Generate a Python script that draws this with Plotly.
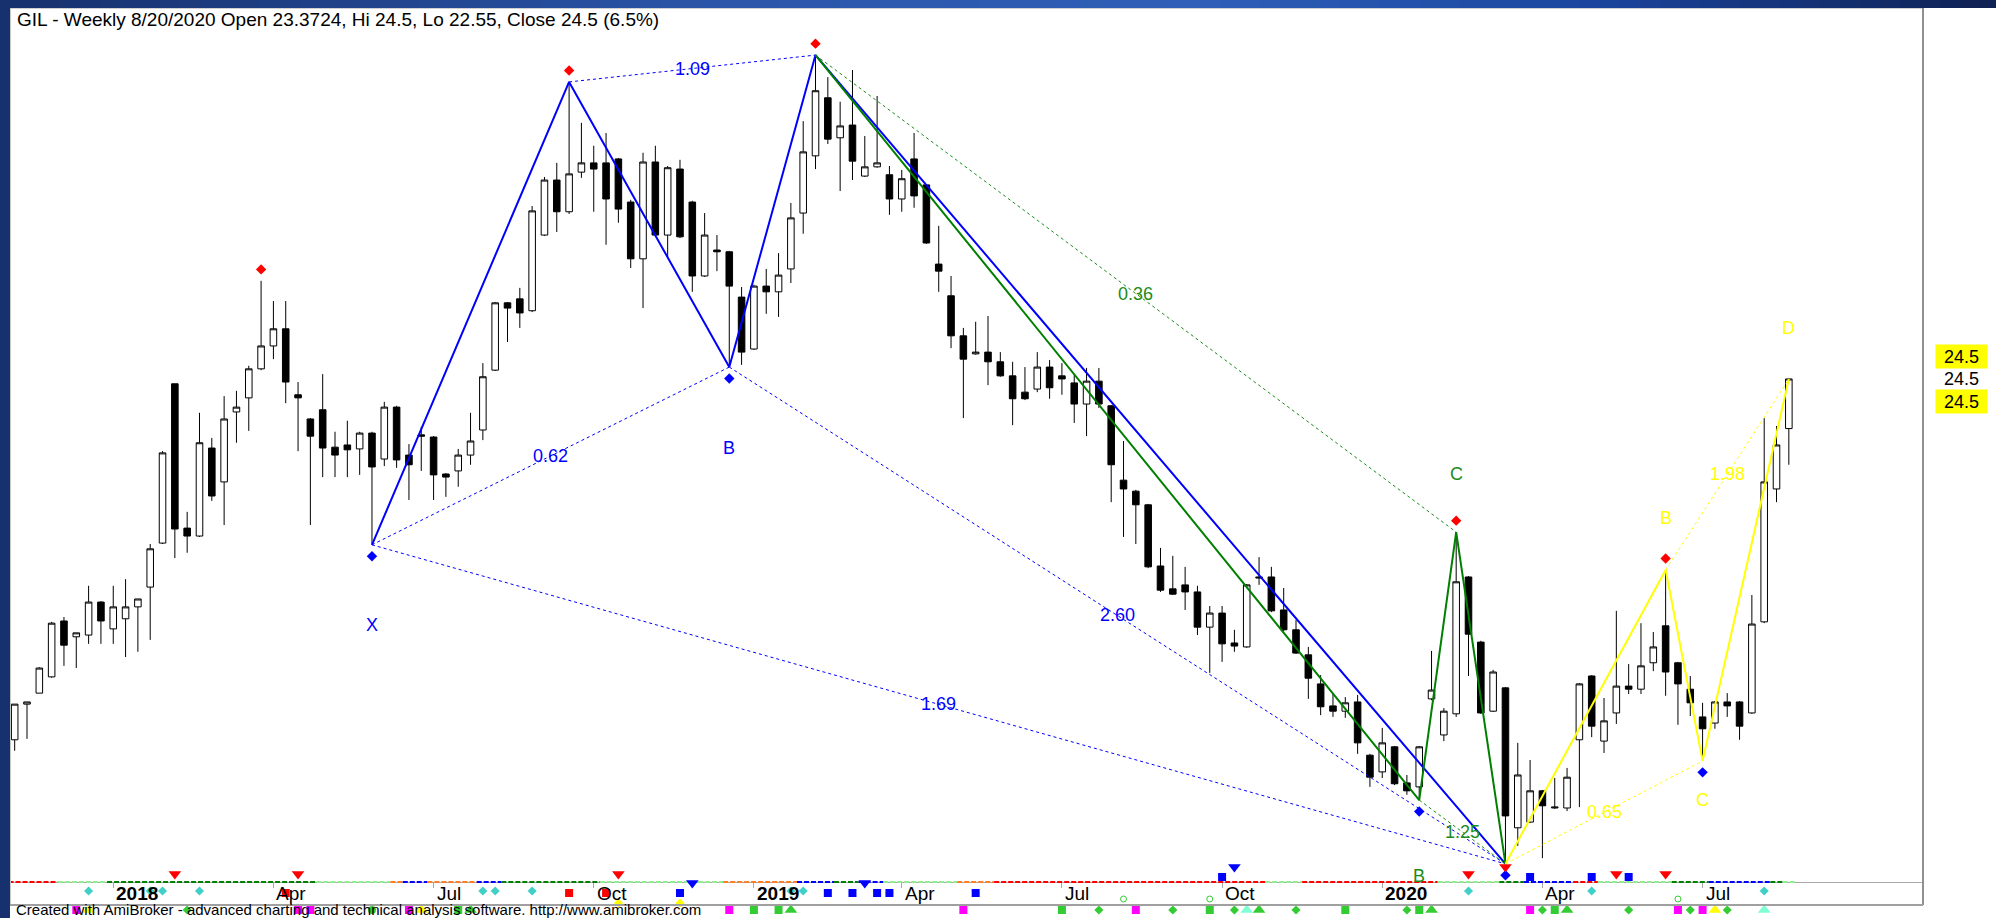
import plotly.graph_objects as go

# ---------------------------------------------------------------- data
symbol = "GIL"
period = "Weekly"
last_date = "8/20/2020"

bars = list(range(1, 146))

opens = [16.30, 17.11, 17.36, 17.73, 19.00, 18.64, 18.68, 19.43, 18.82, 19.05,
         19.32, 19.77, 20.77, 24.39, 21.11, 20.93, 22.93, 22.16, 23.75, 24.07,
         24.73, 25.25, 25.64, 24.14, 23.59, 23.80, 22.95, 23.00, 22.91, 23.27,
         22.68, 23.86, 22.77, 23.23, 23.18, 22.34, 22.41, 22.77, 23.34, 24.70,
         26.23, 26.32, 26.05, 27.77, 29.02, 28.30, 29.20, 29.41, 29.41, 29.50,
         28.52, 27.23, 29.43, 27.77, 29.27, 28.52, 26.84, 27.43, 27.39, 26.36,
         25.18, 26.61, 26.48, 27.00, 28.27, 29.57, 30.89, 29.98, 30.27, 29.11,
         29.32, 29.14, 28.59, 29.50, 28.91, 27.11, 26.39, 25.48, 25.07, 25.11,
         24.89, 24.57, 24.20, 24.27, 24.77, 24.57, 24.41, 23.93, 24.45, 23.89,
         22.20, 21.95, 21.64, 20.25, 19.73, 19.82, 19.66, 18.86, 19.18, 18.50,
         18.41, 20.00, 20.00, 19.25, 18.80, 18.23, 17.57, 17.07, 16.95, 17.16,
         15.95, 15.57, 16.14, 15.32, 15.23, 17.23, 16.41, 16.89, 20.00, 18.52,
         16.95, 17.48, 14.30, 14.43, 15.14, 14.75, 14.75, 16.30, 17.75, 16.27,
         16.91, 17.52, 17.45, 18.05, 18.89, 18.05, 17.45, 16.82, 16.68, 17.16,
         17.16, 16.91, 18.98, 22.00, 23.3724]

highs = [17.11, 17.16, 17.95, 18.98, 19.09, 18.73, 19.80, 19.45, 19.80, 19.95,
         19.50, 20.75, 22.86, 24.39, 21.48, 23.73, 23.16, 24.11, 24.23, 24.80,
         26.73, 26.27, 26.27, 24.43, 23.61, 24.61, 23.30, 23.55, 23.30, 23.30,
         23.98, 23.89, 23.02, 23.41, 23.20, 22.36, 22.91, 23.73, 24.86, 26.25,
         26.25, 26.57, 28.43, 29.09, 29.41, 31.25, 30.32, 29.80, 30.09, 29.52,
         28.57, 29.64, 29.80, 29.34, 29.48, 28.55, 28.27, 27.77, 27.41, 26.59,
         26.64, 27.00, 27.36, 28.50, 30.36, 31.86, 31.36, 30.80, 31.52, 30.02,
         30.93, 29.34, 29.25, 30.09, 28.93, 27.98, 26.84, 25.66, 25.80, 25.93,
         25.11, 24.89, 24.77, 25.11, 24.93, 24.86, 24.59, 24.75, 24.75, 23.91,
         23.09, 21.98, 21.66, 20.66, 20.48, 20.23, 19.80, 19.34, 19.34, 18.80,
         19.84, 20.45, 20.23, 19.75, 19.02, 18.41, 17.77, 17.36, 17.27, 17.32,
         15.98, 16.57, 16.16, 15.50, 16.16, 18.32, 17.02, 21.02, 20.02, 18.55,
         17.89, 17.50, 16.23, 15.84, 15.16, 15.43, 15.66, 17.59, 17.77, 17.25,
         19.23, 18.02, 18.95, 18.75, 20.16, 18.07, 17.75, 17.14, 17.18, 17.36,
         17.18, 19.59, 23.61, 23.43, 24.5]

lows = [16.05, 16.32, 17.36, 17.71, 17.98, 17.93, 18.48, 18.48, 18.48, 18.18,
        18.30, 18.57, 20.75, 20.43, 20.55, 20.91, 21.73, 21.18, 23.05, 23.32,
        24.70, 24.95, 23.95, 22.86, 21.18, 22.27, 22.27, 22.27, 22.32, 20.73,
        22.52, 22.48, 21.75, 22.41, 21.75, 21.82, 22.05, 22.55, 23.11, 24.68,
        25.34, 25.66, 26.02, 27.75, 27.84, 28.25, 29.07, 28.30, 27.55, 28.05,
        27.02, 26.11, 27.75, 27.27, 27.70, 26.48, 26.82, 26.95, 24.77, 24.82,
        25.16, 25.98, 25.91, 26.68, 27.80, 29.27, 29.84, 28.77, 29.02, 29.09,
        29.30, 28.23, 28.30, 28.39, 27.57, 26.48, 25.20, 23.61, 25.05, 24.36,
        24.55, 23.45, 24.02, 24.20, 24.05, 24.14, 23.50, 23.20, 23.84, 21.70,
        20.91, 20.75, 20.20, 19.66, 19.59, 19.25, 18.68, 17.82, 18.07, 18.30,
        18.39, 19.82, 19.20, 18.77, 18.25, 17.23, 16.86, 16.82, 16.80, 15.98,
        15.23, 15.43, 15.27, 15.05, 14.93, 17.20, 16.27, 16.82, 17.75, 16.89,
        16.93, 13.48, 13.89, 14.41, 13.61, 14.73, 14.68, 14.77, 16.36, 16.00,
        16.66, 17.34, 17.34, 17.86, 17.30, 16.64, 16.84, 15.82, 16.55, 16.82,
        16.30, 16.89, 18.95, 21.70, 22.55]

closes = [17.11, 17.16, 17.93, 18.95, 18.45, 18.73, 19.43, 19.00, 19.32, 19.32,
          19.50, 20.64, 22.82, 21.09, 20.93, 23.05, 21.84, 23.59, 23.86, 24.73,
          25.25, 25.64, 24.43, 24.07, 23.20, 22.93, 22.77, 22.89, 23.27, 22.50,
          23.86, 22.66, 22.55, 23.20, 22.32, 22.27, 22.77, 23.09, 24.55, 26.23,
          26.11, 26.00, 28.32, 29.02, 28.30, 29.16, 29.41, 29.27, 28.59, 28.36,
          27.23, 29.43, 27.77, 29.30, 27.73, 26.84, 27.77, 27.39, 26.61, 25.11,
          26.61, 26.48, 26.86, 28.16, 29.66, 31.05, 29.95, 30.25, 29.45, 29.32,
          29.41, 28.59, 29.05, 28.66, 27.59, 26.95, 25.48, 24.95, 25.11, 24.89,
          24.57, 24.05, 24.05, 24.77, 24.30, 24.50, 23.93, 24.45, 23.93, 22.55,
          22.00, 21.64, 20.23, 19.70, 19.61, 19.66, 18.86, 19.18, 18.48, 18.43,
          19.82, 19.98, 19.23, 18.80, 18.27, 17.70, 17.05, 16.95, 17.14, 16.23,
          15.45, 16.23, 15.30, 15.14, 16.14, 17.43, 16.95, 19.89, 18.70, 16.91,
          17.84, 14.57, 15.50, 15.14, 14.80, 14.77, 15.45, 17.57, 16.61, 16.73,
          17.52, 17.45, 17.98, 18.41, 17.84, 17.57, 17.14, 16.55, 17.16, 17.07,
          16.61, 18.93, 22.16, 23.00, 24.50]

tick_bars = [9, 22, 35, 48, 61, 73, 86, 99, 112, 125, 138]
tick_labels = ["2018", "Apr", "Jul", "Oct", "2019", "Apr", "Jul", "Oct", "2020", "Apr", "Jul"]
year_labels = ["2018", "2019", "2020"]

# harmonic patterns: pivot bar + which extreme
blue_pts = [(30, "L"), (46, "H"), (59, "L"), (66, "H"), (122, "L")]
blue_links = [(0, 2), (1, 3), (2, 4), (0, 4)]
blue_ratios = ["0.62", "1.09", "2.60", "1.69"]
blue_letters = [(0, "X"), (2, "B")]

green_pts = [(66, "H"), (115, "L"), (118, "H"), (122, "L")]
green_links = [(0, 2), (1, 3)]
green_ratios = ["0.36", "1.25"]
green_letters = [(1, "B"), (2, "C")]

yellow_pts = [(122, "L"), (135, "H"), (138, "L"), (145, "H")]
yellow_links = [(0, 2), (1, 3)]
yellow_ratios = ["0.65", "1.98"]
yellow_letters = [(1, "B"), (2, "C"), (3, "D")]

swing_high_bars = [21, 46, 66, 118, 135]
swing_low_bars = [30, 59, 115, 122, 138]

# indicator ribbon runs (first bar, last bar, state)
ribbon_runs = [(1, 4, "red"), (5, 8, "lgreen"), (9, 25, "dgreen"), (26, 31, "lgreen"),
               (32, 32, "orange"), (33, 34, "blue"), (35, 38, "orange"), (39, 40, "blue"),
               (41, 48, "dgreen"), (49, 58, "lgreen"), (59, 64, "orange"), (65, 67, "blue"),
               (68, 69, "dgreen"), (70, 71, "blue"), (72, 77, "lgreen"), (78, 80, "orange"),
               (81, 102, "red"), (103, 105, "lgreen"), (106, 116, "red"), (117, 121, "lgreen"),
               (122, 123, "dgreen"), (124, 127, "blue"), (128, 129, "red"), (130, 135, "lgreen"),
               (136, 138, "dgreen"), (139, 143, "blue"), (144, 144, "dgreen"), (145, 145, "lgreen")]

# signal markers (bar numbers)
sig_red_tri = [14, 24, 50, 119, 131, 135]
sig_red_tri_stacked = [122]
sig_blue_tri = [56, 70]
sig_blue_tri_stacked = [100]
sig_blue_sq_up = [99, 124, 129, 132]
sig_blue_sq_dn = [55, 67, 69, 71, 72, 79]
sig_red_sq = [23, 46, 49]
sig_cyan_dia = [7, 12, 13, 16, 39, 40, 43, 64, 65, 119, 129, 143]
sig_yellow_dia = [50, 55]
sig_green_ring = [91, 98, 136]
sig_magenta_sq = [6, 24, 25, 33, 59, 78, 92, 124, 136, 138]
sig_yellow_tri = [7, 34, 139]
sig_green_dia = [15, 89, 95, 100, 105, 114, 125, 132, 137, 140]
sig_green_dot = [30]
sig_green_sq = [37, 61, 63, 86, 98, 109, 115, 126]
sig_green_tri = [38, 64, 102, 116, 127]
sig_aqua_tri = [101, 143]

# ---------------------------------------------------------------- geometry / style
FIG_W, FIG_H = 1996, 918
PL, PR, PT, PB = 10, 1923, 8, 918
AXIS_Y = 882
STRIP_TOP = 860
FRAME_BOTTOM = 905
PW, PH = PR - PL, PB - PT


def pxx(x):
    return (x - PL) / PW


def pxy(y):
    return (PB - y) / PH


FONT = "Liberation Sans, Arial, sans-serif"
BLUE, GREEN, YELLOW = "#0000ff", "#008000", "#ffff00"
DOT_GAP = 0.26

ROW = dict(tri_hi=7, tri=14, sq_up=17, line=22, tri_ax=23, cyan=31, sq_dn=33,
           ring=39, ydia=43, bottom=50)
RIB_COL = {"red": "#ff0000", "lgreen": "#90ee90", "dgreen": "#008000",
           "orange": "#ff7f27", "blue": "#0000ff"}


def pval(bar, kind):
    return highs[bar - 1] if kind == "H" else lows[bar - 1]


fig = go.Figure()

fig.add_trace(go.Candlestick(
    x=bars, open=opens, high=highs, low=lows, close=closes,
    increasing=dict(line=dict(color="#000000", width=1), fillcolor="#ffffff"),
    decreasing=dict(line=dict(color="#000000", width=1), fillcolor="#000000"),
    whiskerwidth=0, showlegend=False, hoverinfo="skip"))

annotations = []


def add_pattern(pts, links, ratios, letters, color, line_color, letter_shift):
    xs = [b for b, k in pts]
    ys = [pval(b, k) for b, k in pts]
    for (a, b), txt in zip(links, ratios):
        fig.add_trace(go.Scatter(x=[xs[a], xs[b]], y=[ys[a], ys[b]], mode="lines",
                                 line=dict(color=color, width=1, dash="3px,3px"),
                                 showlegend=False, hoverinfo="skip"))
        annotations.append(dict(x=(xs[a] + xs[b]) / 2, y=(ys[a] + ys[b]) / 2, xref="x", yref="y",
                                text=txt, showarrow=False,
                                font=dict(family=FONT, size=18, color=color)))
    fig.add_trace(go.Scatter(x=xs, y=ys, mode="lines", line=dict(color=line_color, width=2),
                             showlegend=False, hoverinfo="skip"))
    for (i, letter), sh in zip(letters, letter_shift):
        annotations.append(dict(x=xs[i], y=ys[i], xref="x", yref="y", text=letter,
                                showarrow=False, yshift=sh,
                                font=dict(family=FONT, size=18, color=color)))


add_pattern(blue_pts, blue_links, blue_ratios, blue_letters, BLUE, BLUE, [-80, -81])
add_pattern(green_pts, green_links, green_ratios, green_letters, "#1a8c1a", GREEN, [-76, 58])
add_pattern(yellow_pts, yellow_links, yellow_ratios, yellow_letters, YELLOW, YELLOW, [52, -39, 51])

fig.add_trace(go.Scatter(x=swing_high_bars, y=[highs[b - 1] + DOT_GAP for b in swing_high_bars],
                         mode="markers", marker=dict(symbol="diamond", size=8, color="#ff0000"),
                         showlegend=False, hoverinfo="skip"))
fig.add_trace(go.Scatter(x=swing_low_bars, y=[lows[b - 1] - DOT_GAP for b in swing_low_bars],
                         mode="markers", marker=dict(symbol="diamond", size=8, color=BLUE),
                         showlegend=False, hoverinfo="skip"))

# ---- indicator strip (y2)
for s, e, st in ribbon_runs:
    fig.add_trace(go.Scatter(x=[s - 0.5, e + 0.5], y=[ROW["line"]] * 2, yaxis="y2", mode="lines",
                             line=dict(color=RIB_COL[st], width=2, dash="5px,2px"),
                             showlegend=False, hoverinfo="skip"))


def sig(bars_, row, symbol_, size, color, line=None):
    mk = dict(symbol=symbol_, size=size, color=color)
    if line:
        mk["line"] = line
    fig.add_trace(go.Scatter(x=bars_, y=[ROW[row]] * len(bars_), yaxis="y2", mode="markers",
                             marker=mk, showlegend=False, hoverinfo="skip"))


sig(sig_red_tri, "tri", "triangle-down", 11, "#ff0000")
sig(sig_red_tri_stacked, "tri_hi", "triangle-down", 11, "#ff0000")
sig(sig_blue_tri, "tri_ax", "triangle-down", 11, BLUE)
sig(sig_blue_tri_stacked, "tri_hi", "triangle-down", 11, BLUE)
sig(sig_blue_sq_up, "sq_up", "square", 8, BLUE)
sig(sig_blue_sq_dn, "sq_dn", "square", 8, BLUE)
sig(sig_red_sq, "sq_dn", "square", 8, "#ff0000")
sig(sig_cyan_dia, "cyan", "diamond", 7, "#40d0c8")
sig(sig_yellow_dia, "ydia", "diamond", 7, YELLOW)
sig(sig_green_ring, "ring", "circle-open", 6, "#33cc33", line=dict(width=1, color="#33cc33"))
sig(sig_magenta_sq, "bottom", "square", 8, "#ff00ff")
sig(sig_yellow_tri, "bottom", "triangle-up", 11, YELLOW)
sig(sig_green_dia, "bottom", "diamond", 7, "#33cc33")
sig(sig_green_dot, "bottom", "circle", 8, "#33cc33")
sig(sig_green_sq, "bottom", "square", 8, "#33cc33")
sig(sig_green_tri, "bottom", "triangle-up", 11, "#33cc33")
sig(sig_aqua_tri, "bottom", "triangle-up", 11, "#7fffd4")

# ---- title & footer
pct = (closes[-1] / closes[-2] - 1) * 100
title = (f"{symbol} - {period} {last_date} Open {opens[-1]:g}, Hi {highs[-1]:g}, "
         f"Lo {lows[-1]:g}, Close {closes[-1]:g} ({pct:.1f}%)")
annotations.append(dict(x=pxx(15), y=pxy(20), xref="paper", yref="paper", text=title,
                        showarrow=False, xanchor="left", yanchor="middle",
                        font=dict(family=FONT, size=19, color="#000000")))
annotations.append(dict(x=pxx(14), y=pxy(909), xref="paper", yref="paper",
                        text="Created with AmiBroker - advanced charting and technical analysis software. http://www.amibroker.com",
                        showarrow=False, xanchor="left", yanchor="middle",
                        font=dict(family=FONT, size=15, color="#000000")))

# ---- date labels
for b, lab in zip(tick_bars, tick_labels):
    txt = f"<b>{lab}</b>" if lab in year_labels else lab
    annotations.append(dict(x=b, y=pxy(893), xref="x", yref="paper", text=txt, showarrow=False,
                            xanchor="left", yanchor="middle", xshift=1,
                            font=dict(family=FONT, size=19, color="#000000")))

# ---- right value labels
for sh, bg in [(22.5, YELLOW), (0, "rgba(0,0,0,0)"), (-22.5, YELLOW)]:
    annotations.append(dict(x=pxx(1935), y=closes[-1], xref="paper", yref="y",
                            text=f"{closes[-1]:g}", showarrow=False, xanchor="left",
                            yanchor="middle", yshift=sh, width=47, height=19, borderpad=2,
                            align="center", bgcolor=bg,
                            font=dict(family=FONT, size=18, color="#000000")))

# ---- frame / decoration shapes
shapes = []
stops = [(0, (0x16, 0x30, 0x6c)), (700, (0x2b, 0x55, 0xa8)), (1200, (0x2f, 0x5f, 0xb8)),
         (1580, (0x1b, 0x46, 0xa0)), (1996, (0x0f, 0x21, 0x52))]


def grad(x):
    for (x0, c0), (x1, c1) in zip(stops[:-1], stops[1:]):
        if x0 <= x <= x1:
            t = (x - x0) / (x1 - x0)
            return "rgb(%d,%d,%d)" % tuple(round(a + (b - a) * t) for a, b in zip(c0, c1))
    return "rgb(15,33,82)"


step = 20
for x0 in range(0, FIG_W, step):
    shapes.append(dict(type="rect", xref="paper", yref="paper", x0=pxx(x0), x1=pxx(x0 + step + 1),
                       y0=pxy(PT), y1=pxy(0), fillcolor=grad(x0 + step / 2), line=dict(width=0),
                       layer="above"))
shapes.append(dict(type="rect", xref="paper", yref="paper", x0=pxx(0), x1=pxx(PL), y0=pxy(FIG_H),
                   y1=pxy(0), fillcolor="#17306e", line=dict(width=0), layer="above"))
shapes.append(dict(type="line", xref="paper", yref="paper", x0=pxx(PL), x1=pxx(PR),
                   y0=pxy(PT + 0.5), y1=pxy(PT + 0.5), line=dict(color="#d0d0d0", width=1)))
shapes.append(dict(type="line", xref="paper", yref="paper", x0=pxx(PL + 0.5), x1=pxx(PL + 0.5),
                   y0=pxy(PT), y1=pxy(FRAME_BOTTOM), line=dict(color="#c8c8c8", width=1)))
shapes.append(dict(type="line", xref="paper", yref="paper", x0=pxx(PR), x1=pxx(PR),
                   y0=pxy(PT), y1=pxy(FRAME_BOTTOM), line=dict(color="#909090", width=2)))
shapes.append(dict(type="line", xref="paper", yref="paper", x0=pxx(PL), x1=pxx(PR),
                   y0=pxy(FRAME_BOTTOM), y1=pxy(FRAME_BOTTOM), line=dict(color="#a0a0a0", width=2)))

fig.update_layout(
    width=FIG_W, height=FIG_H,
    margin=dict(l=PL, r=FIG_W - PR, t=PT, b=FIG_H - PB, pad=0),
    paper_bgcolor="#ffffff", plot_bgcolor="rgba(0,0,0,0)",
    showlegend=False, boxgap=0.24,
    xaxis=dict(range=[0.62, 155.89], showgrid=False, zeroline=False, showline=True,
               linecolor="#a8a8a8", linewidth=1, ticks="outside", ticklen=5,
               tickcolor="#a8a8a8", tickvals=tick_bars, showticklabels=False,
               rangeslider=dict(visible=False), anchor="y", fixedrange=True),
    yaxis=dict(domain=[pxy(AXIS_Y), 1], range=[13.068, 32.93], showgrid=False,
               zeroline=False, showticklabels=False, ticks="", showline=False, fixedrange=True),
    yaxis2=dict(domain=[0, pxy(STRIP_TOP)], range=[FIG_H - STRIP_TOP, 0], visible=False,
                anchor="x", fixedrange=True),
    annotations=annotations, shapes=shapes,
)

fig.write_html("out.html", config={"displayModeBar": False},
               post_script="document.body.style.margin='0px';document.body.style.overflow='hidden';")
